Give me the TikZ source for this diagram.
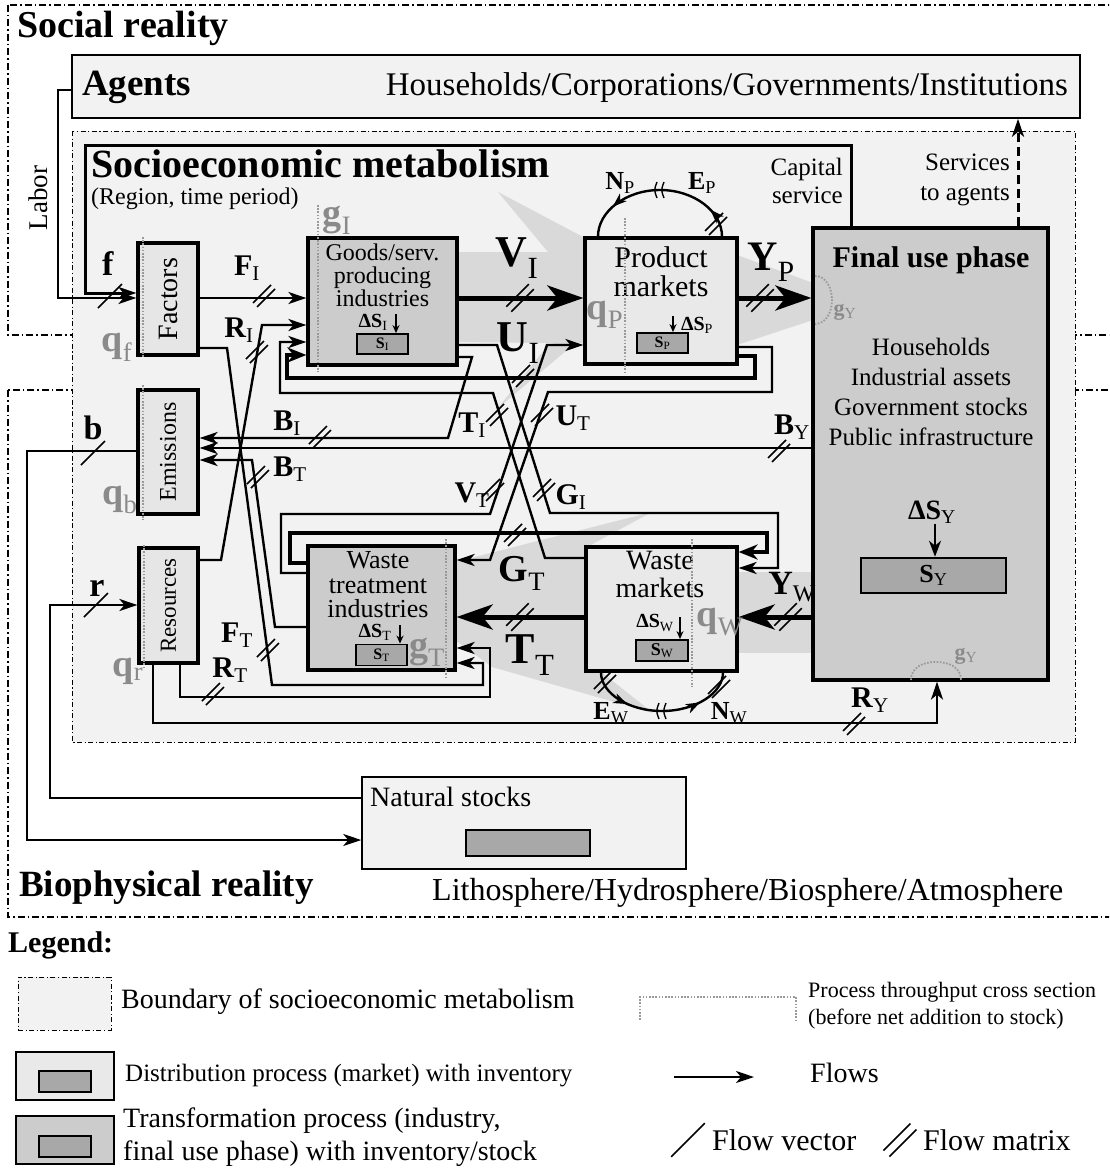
\documentclass[tikz,border=0pt]{standalone}
\usepackage{fontspec}
\setmainfont{Liberation Serif}
\usetikzlibrary{arrows.meta,decorations.markings}
\newcommand{\setfs}[1]{\fontsize{#1}{#1}\selectfont}
\newcommand{\lb}[2]{\textbf{#1}\textsubscript{#2}}
\definecolor{semfill}{HTML}{F2F2F2}
\definecolor{lightbox}{HTML}{E6E6E6}
\definecolor{mktbox}{HTML}{E9E9E9}
\definecolor{midbox}{HTML}{CCCCCC}
\definecolor{stockfill}{HTML}{A8A8A8}
\definecolor{wedge}{HTML}{D9D9D9}
\definecolor{graylab}{HTML}{8A8A8A}
\definecolor{tputcol}{HTML}{999999}
\tikzset{
  ddline/.style={dash pattern=on 7pt off 3pt on 1.5pt off 3pt, line width=1.4pt},
  semline/.style={dash pattern=on 5pt off 2.5pt on 1.2pt off 2.5pt, line width=1pt},
  procbox/.style={draw, line width=3.2pt, inner sep=0pt},
  stockbox/.style={draw, line width=1.8pt, fill=stockfill, inner sep=0pt},
  fl/.style={line width=2.4pt, -{Stealth[length=18pt,width=12pt,inset=5pt]}},
  fln/.style={line width=2.4pt},
  bigfl/.style={line width=5pt, -{Stealth[length=36pt,width=25pt,inset=10pt]}},
  midfl/.style={line width=3.6pt, -{Stealth[length=19pt,width=15pt,inset=6pt]}},
  tput/.style={draw=tputcol, line width=1.8pt, dash pattern=on 1.6pt off 1.6pt},
  txt/.style={inner sep=0pt},
  lab/.style={inner sep=0pt, font=\setfs{30}},
  biglab/.style={inner sep=0pt, font=\setfs{44}},
  glab/.style={inner sep=0pt, text=graylab, font=\setfs{38}},
  dslab/.style={inner sep=0pt, font=\setfs{20}},
  dsarrow/.style={line width=1.3pt, -{Stealth[length=8pt,width=7pt]}},
  mslash/.pic={\draw[line width=1.5pt] (-11,7) -- (7,-11) (-7,11) -- (11,-7);},
  vslash/.pic={\draw[line width=1.5pt] (-12,12) -- (12,-12);},
  markP/.style={postaction={decorate}, decoration={markings, mark=at position #1 with {\arrow{Stealth[length=14pt,width=10pt,inset=4pt]}}}}
}
\begin{document}
\begin{tikzpicture}[x=1pt,y=-1pt,line join=miter]
\useasboundingbox (0,0) rectangle (1109,1172);
\clip (0,0) rectangle (1109,1172);
\fill[white] (0,0) rectangle (1109,1172);
% reality boundaries
\draw[ddline] (8,5) rectangle (1140,335);
\draw[ddline] (8,390) rectangle (1140,917);
\draw[semline, fill=semfill] (72,131) rectangle (1075,742);
% shaded throughput wedges
\fill[wedge] (498,192) -- (585,238) -- (737,255) -- (813,283) -- (813,320) -- (737,345) -- (457,342) -- (457,252) -- (548,252) -- cycle;
\fill[wedge] (585,335) -- (498,408) -- (548,345) -- cycle;
\fill[wedge] (652,512) -- (455,562) -- (455,640) -- (492,667) -- (653,713) -- (600,671) -- (587,547) -- cycle;
\fill[wedge] (737,572) rectangle (813,653);
% titles
\node[txt, anchor=west, font=\setfs{38}\bfseries] (socreal) at (17,28) {Social reality};
\node[draw, line width=1.5pt, fill=semfill, minimum width=1008pt, minimum height=63pt, inner sep=0pt] (agents) at (576,86.5) {};
\node[txt, anchor=west, font=\setfs{37}\bfseries] (agentslab) at (82,87) {Agents};
\node[txt, anchor=east, font=\setfs{33}] (agentlist) at (1068,88) {Households/Corporations/Governments/Institutions};
\node[txt, anchor=west, font=\setfs{40}\bfseries] (semtitle) at (91,164) {Socioeconomic metabolism};
\node[txt, anchor=west, font=\setfs{24}] (semsub) at (91,199) {(Region, time period)};
\node[txt, rotate=90, font=\setfs{27}] (labor) at (38,198) {Labor};
% boxes
\node[procbox, fill=lightbox, minimum width=60pt, minimum height=112pt] (factors) at (168,299) {};
\node[procbox, fill=lightbox, minimum width=60pt, minimum height=124pt] (emis) at (168,452) {};
\node[procbox, fill=lightbox, minimum width=59pt, minimum height=115pt] (res) at (168.5,605.5) {};
\node[procbox, fill=midbox, minimum width=149pt, minimum height=127pt] (goods) at (382.5,301.5) {};
\node[procbox, fill=mktbox, minimum width=152pt, minimum height=126pt] (pmkt) at (661,301) {};
\node[procbox, fill=midbox, minimum width=235pt, minimum height=452pt] (final) at (930.5,454) {};
\node[procbox, fill=midbox, minimum width=147pt, minimum height=124pt] (wtreat) at (381.5,608) {};
\node[procbox, fill=mktbox, minimum width=151pt, minimum height=124pt] (wmkt) at (661.5,609) {};
\node[draw, line width=1.5pt, fill=semfill, minimum width=324pt, minimum height=92pt, inner sep=0pt] (natural) at (524,823) {};
% flows
\draw[fl] (agents.west |- 0,90) -- (58,90) -- (58,298) -- (factors.west |- 0,298);
\draw[fl, line width=3pt] (final.north -| 851,0) -- (851,145) -- (85,145) -- (85,293) -- (factors.west |- 0,293);
\draw[fl, line width=3pt, dash pattern=on 9pt off 5pt] (final.north -| 1018,0) -- (agents.south -| 1018,0);
\draw[fl] (factors.east |- 0,298) -- (goods.west |- 0,298);
\draw[fl] (res.east |- 0,560) -- (221,560) -- (262,325) -- (goods.west |- 0,325);
\draw[fl] (factors.east |- 0,348) -- (227,348) -- (272,685) -- (483,685) -- (483,663) -- (wtreat.east |- 0,663);
\draw[fl] (res.south -| 180,0) -- (180,697) -- (490,697) -- (490,648) -- (wtreat.east |- 0,648);
\draw[fl] (res.south -| 153,0) -- (153,723) -- (937,723) -- (final.south -| 937,0);
\draw[fl] (natural.west |- 0,798) -- (50,798) -- (50,605) -- (res.west |- 0,605);
\draw[fl] (emis.west |- 0,451) -- (27,451) -- (27,840) -- (natural.west |- 0,840);
\draw[fl] (goods.east |- 0,357) -- (472,357) -- (448,438) -- (emis.east |- 0,438);
\draw[fl] (final.west |- 0,448) -- (emis.east |- 0,448);
\draw[fl] (wtreat.west |- 0,627) -- (275,627) -- (252,460) -- (emis.east |- 0,460);
\draw[bigfl] (goods.east |- 0,298) -- (pmkt.west |- 0,298);
\draw[bigfl] (pmkt.east |- 0,298) -- (final.west |- 0,298);
\draw[midfl] (pmkt.east |- 0,356) -- (755,356) -- (755,378) -- (287,378) -- (287,355) -- (goods.west |- 0,355);
\draw[fl] (wmkt.west |- 0,558) -- (545,558) -- (493,393) -- (280,393) -- (280,342) -- (goods.west |- 0,342);
\draw[fl] (goods.east |- 0,345) -- (497,345) -- (550,513) -- (778,513) -- (778,568) -- (wmkt.east |- 0,568);
\draw[fl] (pmkt.east |- 0,347) -- (772,347) -- (772,392) -- (548,392) -- (490,560) -- (wtreat.east |- 0,560);
\draw[fl] (wtreat.west |- 0,573) -- (281,573) -- (281,514) -- (490,514) -- (547,345) -- (pmkt.west |- 0,345);
\draw[midfl] (wtreat.west |- 0,563) -- (290,563) -- (290,533) -- (767,533) -- (767,552) -- (wmkt.east |- 0,552);
\draw[bigfl] (wmkt.west |- 0,617) -- (wtreat.east |- 0,617);
\draw[bigfl] (final.west |- 0,617) -- (wmkt.east |- 0,617);
% import/export arcs
\draw[fln, markP=0.35] (pmkt.north -| 722,0) .. controls (722,211.5) and (694.2,190) .. (660,190);
\draw[fln, markP=0.6] (660,190) .. controls (625.8,190) and (598,211.5) .. (pmkt.north -| 598,0);
\draw[fln, markP=0.55] (wmkt.south -| 601,0) .. controls (601,693) and (628.3,711) .. (662,711);
\draw[fln, markP=0.5] (662,711) .. controls (695.7,711) and (723,693) .. (wmkt.south -| 723,0);
\draw[line width=1.4pt] (657,182) .. controls (654,190) .. (657,198);
\draw[line width=1.4pt] (664,182) .. controls (661,190) .. (664,198);
\draw[line width=1.4pt] (659,703) .. controls (656,711) .. (659,719);
\draw[line width=1.4pt] (666,703) .. controls (663,711) .. (666,719);
% box texts
\node[txt, rotate=90, font=\setfs{28}] (factorslab) at (factors.center) {Factors};
\node[txt, rotate=90, font=\setfs{24}] (emislab) at (emis.center) {Emissions};
\node[txt, rotate=90, font=\setfs{23}] (reslab) at (res.center) {Resources};
\node[txt, align=center, font=\fontsize{24}{23}\selectfont] (goodslab) at (382.5,275) {Goods/serv.\\producing\\industries};
\node[txt, align=center, font=\fontsize{30}{29}\selectfont] (pmktlab) at (661,272) {Product\\markets};
\node[txt, align=center, font=\fontsize{26}{24.5}\selectfont] (wtreatlab) at (378,585) {Waste\\treatment\\industries};
\node[txt, align=center, font=\fontsize{28}{28}\selectfont] (wmktlab) at (660,574) {Waste\\markets};
\node[txt, font=\setfs{30}\bfseries] (finallab) at (931,260) {Final use phase};
\node[txt, align=center, font=\fontsize{25}{30}\selectfont] (finallist) at (931,392) {Households\\Industrial assets\\Government stocks\\Public infrastructure};
\node[txt, anchor=west, font=\setfs{28}] (natlab) at (370,797) {Natural stocks};
\node[txt, anchor=east, align=right, font=\fontsize{25}{28}\selectfont] (caplab) at (843,181) {Capital\\service};
\node[txt, anchor=east, align=right, font=\fontsize{25}{30}\selectfont] (servlab) at (1010,180) {Services\\to agents};
\node[txt, anchor=west, font=\setfs{37}\bfseries] (bioreal) at (19,888) {Biophysical reality};
\node[txt, anchor=west, font=\setfs{32}] (spheres) at (432,893) {Lithosphere/Hydrosphere/Biosphere/Atmosphere};
% stocks
\node[stockbox, minimum width=51pt, minimum height=20pt, font=\setfs{16}] (sI) at (382.5,344) {\lb{S}{I}};
\node[stockbox, minimum width=51pt, minimum height=20pt, font=\setfs{16}] (sP) at (662.5,343) {\lb{S}{P}};
\node[stockbox, minimum width=51pt, minimum height=21pt, font=\setfs{16}] (sT) at (381.5,655) {\lb{S}{T}};
\node[stockbox, minimum width=52pt, minimum height=21pt, font=\setfs{18}] (sW) at (662,650.5) {\lb{S}{W}};
\node[stockbox, minimum width=145pt, minimum height=35pt, line width=2.5pt, font=\setfs{26}] (sY) at (933.5,575.5) {\lb{S}{Y}};
\node[stockbox, minimum width=124pt, minimum height=26pt, line width=1.5pt] (natstock) at (528,843) {};
\node[dslab] (dsI) at (373,322) {\lb{ΔS}{I}};
\draw[dsarrow] (396,314) -- (sI.north -| 396,0);
\node[dslab] (dsP) at (697,325) {\lb{ΔS}{P}};
\draw[dsarrow] (673,316) -- (sP.north -| 673,0);
\node[dslab] (dsT) at (375,632) {\lb{ΔS}{T}};
\draw[dsarrow] (400,625) -- (sT.north -| 400,0);
\node[dslab] (dsW) at (655,623) {\lb{ΔS}{W}};
\draw[dsarrow] (680,617) -- (sW.north -| 680,0);
\node[txt, font=\setfs{28}] (dsY) at (932,512) {\lb{ΔS}{Y}};
\draw[line width=2pt, -{Stealth[length=16pt,width=12pt,inset=5pt]}] (dsY.south -| 935,0) -- (sY.north -| 935,0);
% throughput cross sections
\draw[tput] (143,237) -- (143,357);
\draw[tput] (143,385) -- (143,520);
\draw[tput] (144,545) -- (144,668);
\draw[tput] (318,205) -- (318,372);
\draw[tput] (625,218) -- (625,373);
\draw[tput] (446,539) -- (446,677);
\draw[tput] (692,539) -- (692,687);
\draw[tput] (815,276) .. controls (826,276) and (832,288) .. (832,300) .. controls (832,312) and (826,324) .. (815,324);
\draw[tput] (911,680) .. controls (911,668) and (922,662) .. (936,662) .. controls (950,662) and (961,668) .. (961,680);
\node[glab] (qf) at (117,347) {\lb{q}{f}};
\node[glab] (qb) at (120,500) {\lb{q}{b}};
\node[glab] (qr) at (128,671) {\lb{q}{r}};
\node[glab] (gI) at (337,220) {\lb{g}{I}};
\node[glab] (qP) at (605,315) {\lb{q}{P}};
\node[glab] (gT) at (427,652) {\lb{g}{T}};
\node[glab] (qW) at (720,622) {\lb{q}{W}};
\node[glab, font=\setfs{22}] (gY1) at (845,312) {\lb{g}{Y}};
\node[glab, font=\setfs{22}] (gY2) at (966,656) {\lb{g}{Y}};
% flow labels
\node[lab] (lFI) at (247,268) {\lb{F}{I}};
\node[lab] (lRI) at (239,330) {\lb{R}{I}};
\node[lab] (lBI) at (287,423) {\lb{B}{I}};
\node[lab] (lBT) at (290,469) {\lb{B}{T}};
\node[lab] (lTI) at (472,425) {\lb{T}{I}};
\node[lab] (lUT) at (573,418) {\lb{U}{T}};
\node[lab] (lVT) at (472,495) {\lb{V}{T}};
\node[lab] (lGI) at (571,497) {\lb{G}{I}};
\node[lab] (lFT) at (237,635) {\lb{F}{T}};
\node[lab] (lRT) at (230,670) {\lb{R}{T}};
\node[lab] (lRY) at (870,700) {\lb{R}{Y}};
\node[lab] (lBY) at (792,427) {\lb{B}{Y}};
\node[lab, font=\setfs{26}] (lEP) at (702,183) {\lb{E}{P}};
\node[lab, font=\setfs{26}] (lNP) at (620,183) {\lb{N}{P}};
\node[lab, font=\setfs{26}] (lEW) at (611,713) {\lb{E}{W}};
\node[lab, font=\setfs{26}] (lNW) at (729,713) {\lb{N}{W}};
\node[biglab] (lVI) at (517,258) {\lb{V}{I}};
\node[biglab] (lUI) at (518,343) {\lb{U}{I}};
\node[biglab, font=\setfs{42}] (lYP) at (771,262) {\lb{Y}{P}};
\node[biglab, font=\setfs{38}] (lGT) at (522,573) {\lb{G}{T}};
\node[biglab] (lTT) at (530,655) {\lb{T}{T}};
\node[biglab, font=\setfs{34}] (lYW) at (792,587) {\lb{Y}{W}};
\node[lab, font=\setfs{34}] (lf) at (108,264) {\textbf{f}};
\node[lab, font=\setfs{34}] (lb) at (93,428) {\textbf{b}};
\node[lab, font=\setfs{34}] (lr) at (97,588) {\textbf{r}};
% slashes
\pic at (110,296) {vslash};
\pic at (93,453) {vslash};
\pic at (96,605) {vslash};
\pic at (264,296) {mslash};
\pic at (257,352) {mslash};
\pic at (320,437) {mslash};
\pic at (258,477) {mslash};
\pic at (497,415) {mslash};
\pic at (542,415) {mslash};
\pic at (493,490) {mslash};
\pic at (544,490) {mslash};
\pic at (523,376) {mslash};
\pic at (515,535) {mslash};
\pic[scale=1.25] at (520,617) {mslash};
\pic[scale=1.25] at (520,298) {mslash};
\pic[scale=1.25] at (760,298) {mslash};
\pic[scale=1.25] at (788,617) {mslash};
\pic at (779,451) {mslash};
\pic at (854,724) {mslash};
\pic at (213,694) {mslash};
\pic at (268,650) {mslash};
\pic at (716,224) {mslash};
\pic at (605,682) {mslash};
\pic at (719,687) {mslash};
% legend
\node[txt, anchor=west, font=\setfs{30}\bfseries] (legend) at (8,945) {Legend:};
\node[semline, draw, fill=semfill, minimum width=93pt, minimum height=53pt, inner sep=0pt] (legsem) at (64.5,1003.5) {};
\node[txt, anchor=west, font=\setfs{28}] (legsemlab) at (121,1002) {Boundary of socioeconomic metabolism};
\node[draw, line width=2pt, fill=mktbox, minimum width=98pt, minimum height=48pt, inner sep=0pt] (legdist) at (65,1076) {};
\node[stockbox, line width=2pt, minimum width=52pt, minimum height=21pt] (legdiststock) at (65,1081.5) {};
\node[txt, anchor=west, font=\setfs{25}] (legdistlab) at (125,1076) {Distribution process (market) with inventory};
\node[draw, line width=2pt, fill=midbox, minimum width=98pt, minimum height=48pt, inner sep=0pt] (legtr) at (65,1140) {};
\node[stockbox, line width=2pt, minimum width=52pt, minimum height=21pt] (legtrstock) at (65,1146) {};
\node[txt, anchor=west, align=left, font=\fontsize{28}{33}\selectfont] (legtrlab) at (123,1137) {Transformation process (industry,\\final use phase) with inventory/stock};
\draw[tput] (640,1020) -- (640,997) -- (796,997) -- (796,1020);
\node[txt, anchor=west, align=left, font=\fontsize{22}{27}\selectfont] (legtput) at (808,1006) {Process throughput cross section\\(before net addition to stock)};
\coordinate (lflA) at (674,1077);
\coordinate (lflB) at (754,1077);
\draw[fl] (lflA) -- (lflB);
\node[txt, anchor=west, font=\setfs{28}] (legflows) at (810,1073) {Flows};
\pic[scale=1.4] at (688,1140) {vslash};
\node[txt, anchor=west, font=\setfs{30}] (legvec) at (712,1140) {Flow vector};
\pic[scale=1.5] at (900,1140) {mslash};
\node[txt, anchor=west, font=\setfs{30}] (legmat) at (923,1140) {Flow matrix};
\end{tikzpicture}
\end{document}
